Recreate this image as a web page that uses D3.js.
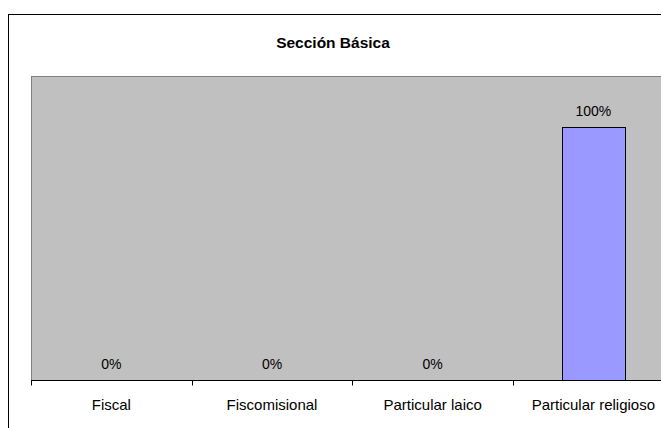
<!DOCTYPE html>
<html>
<head>
<meta charset="utf-8">
<script src="https://cdn.jsdelivr.net/npm/d3@7"></script>
<style>
  body { margin: 0; background: #fff; }
  svg { display: block; font-family: "Liberation Sans", Arial, sans-serif; }
</style>
</head>
<body>
<svg id="chart"></svg>
<script>
var width = 661;
var height = 428;

var categories = ["Fiscal", "Fiscomisional", "Particular laico", "Particular religioso"];
var values = [0, 0, 0, 1];
var labels = ["0%", "0%", "0%", "100%"];
var title = "Sección Básica";

var plot = { left: 31, top: 76, bottom: 380, band: 160.67 };

var svg = d3.select("#chart").attr("width", width).attr("height", height);

// outer chart border
svg.append("rect")
  .attr("x", 8.5).attr("y", 14.5)
  .attr("width", 700).attr("height", 500)
  .attr("fill", "#fff").attr("stroke", "#000");

svg.append("text")
  .attr("x", 333).attr("y", 48)
  .attr("text-anchor", "middle")
  .attr("font-size", 15.5).attr("font-weight", "bold")
  .text(title);

var xScale = d3.scaleBand()
  .domain(categories)
  .range([plot.left, plot.left + plot.band * categories.length])
  .paddingInner(0.608).paddingOuter(0.304);

var yScale = d3.scaleLinear()
  .domain([0, 1.2])
  .range([plot.bottom, plot.top]);

// plot area
svg.append("rect")
  .attr("x", plot.left + 0.5).attr("y", plot.top + 0.5)
  .attr("width", plot.band * categories.length).attr("height", plot.bottom - plot.top)
  .attr("fill", "#c0c0c0").attr("stroke", "#808080");

svg.selectAll(".bar")
  .data(categories)
  .enter()
  .append("rect")
  .attr("class", "bar")
  .attr("x", (d) => Math.round(xScale(d)) + 0.5)
  .attr("width", Math.round(xScale.bandwidth()))
  .attr("y", (d, i) => Math.round(yScale(values[i])) + 0.5)
  .attr("height", (d, i) => plot.bottom - Math.round(yScale(values[i])))
  .attr("fill", "#9999ff")
  .attr("stroke", "#000")
  .attr("stroke-width", 1);

svg.selectAll(".lbl")
  .data(categories)
  .enter()
  .append("text")
  .attr("class", "lbl")
  .attr("x", (d) => xScale(d) + xScale.bandwidth() / 2)
  .attr("y", (d, i) => yScale(values[i]) - 11)
  .attr("text-anchor", "middle")
  .attr("font-size", 14)
  .text((d, i) => labels[i]);

// x axis with ticks at category boundaries
var axis = svg.append("g").attr("transform", `translate(0, ${plot.bottom + 0.5})`);
axis.append("line")
  .attr("x1", plot.left).attr("x2", width)
  .attr("stroke", "#000");
axis.selectAll(".tick")
  .data(categories)
  .enter()
  .append("line")
  .attr("x1", (d, i) => Math.round(plot.left + plot.band * i) + 0.5)
  .attr("x2", (d, i) => Math.round(plot.left + plot.band * i) + 0.5)
  .attr("y1", 0).attr("y2", 5)
  .attr("stroke", "#000");
axis.selectAll(".cat")
  .data(categories)
  .enter()
  .append("text")
  .attr("x", (d) => xScale(d) + xScale.bandwidth() / 2)
  .attr("y", 29)
  .attr("text-anchor", "middle")
  .attr("font-size", 15)
  .text((d) => d);
</script>
</body>
</html>
